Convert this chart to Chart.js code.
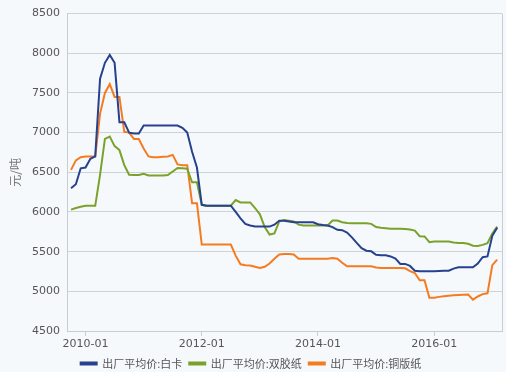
<!DOCTYPE html>
<html>
<head>
<meta charset="utf-8">
<script src="https://cdn.jsdelivr.net/npm/chart.js@4.4.0/dist/chart.umd.min.js"></script>
<style>
  html, body { margin: 0; padding: 0; background: #f6f9fc; }
  #wrap { width: 506px; height: 372px; }
</style>
</head>
<body>
<div id="wrap"><canvas id="paperChart"></canvas></div>
<script>
// monthly points, 2009-10 .. 2017-02
const startYear = 2009, startMonth = 10;
const tickLabels = ['2010-01', '2012-01', '2014-01', '2016-01'];

const baika = [6300, 6350, 6550, 6560, 6670, 6700, 7680, 7880, 7980, 7880,
  7130, 7130, 7000, 6990, 6990, 7090, 7090, 7090, 7090, 7090,
  7090, 7090, 7090, 7060, 7000, 6760, 6560, 6090, 6080, 6080,
  6080, 6080, 6080, 6080, 6000, 5920, 5850, 5830, 5816, 5816,
  5816, 5816, 5840, 5890, 5890, 5880, 5870, 5870, 5870, 5870,
  5870, 5845, 5835, 5830, 5810, 5775, 5770, 5740, 5680, 5610,
  5545, 5512, 5504, 5460, 5454, 5454, 5440, 5412, 5345, 5345,
  5320, 5260, 5252, 5252, 5252, 5252, 5255, 5258, 5260, 5286,
  5302, 5302, 5302, 5302, 5350, 5430, 5440, 5700, 5800];

const shuangjiao = [6030, 6050, 6065, 6077, 6077, 6077, 6470, 6920, 6950, 6830,
  6780, 6590, 6470, 6465, 6465, 6480, 6460, 6460, 6460, 6460,
  6465, 6510, 6555, 6550, 6545, 6375, 6375, 6090, 6080, 6080,
  6080, 6080, 6080, 6080, 6150, 6120, 6120, 6120, 6050, 5970,
  5810, 5715, 5730, 5880, 5900, 5890, 5880, 5840, 5830, 5830,
  5830, 5830, 5830, 5830, 5892, 5892, 5870, 5860, 5858, 5858,
  5858, 5858, 5850, 5810, 5800, 5795, 5790, 5790, 5788, 5785,
  5778, 5765, 5695, 5692, 5620, 5629, 5629, 5629, 5629, 5615,
  5608, 5608, 5600, 5575, 5570, 5585, 5608, 5730, 5816];

const tongban = [6530, 6650, 6690, 6700, 6700, 6700, 7240, 7500, 7610, 7450,
  7450, 7010, 7000, 6920, 6920, 6800, 6700, 6690, 6690, 6695,
  6700, 6720, 6600, 6590, 6590, 6110, 6110, 5590, 5590, 5590,
  5590, 5590, 5590, 5590, 5450, 5340, 5330, 5325, 5310, 5295,
  5310, 5350, 5410, 5465, 5470, 5470, 5465, 5412, 5412, 5412,
  5412, 5412, 5412, 5412, 5420, 5410, 5360, 5315, 5315, 5315,
  5315, 5315, 5315, 5300, 5294, 5294, 5294, 5294, 5294, 5290,
  5255, 5231, 5140, 5140, 4920, 4920, 4930, 4938, 4945, 4950,
  4955, 4958, 4960, 4895, 4935, 4965, 4975, 5330, 5400];

const months = [];
for (let i = 0; i < baika.length; i++) {
    const m = startMonth - 1 + i;
    const y = startYear + Math.floor(m / 12);
    months.push(y + '-' + String(m % 12 + 1).padStart(2, '0'));
}

const toPoints = arr => arr.map((v, i) => ({ x: i, y: v }));

// paint background and the right-hand frame line
const framePlugin = {
    id: 'frame',
    beforeDraw(chart) {
        const c = chart.ctx;
        c.save();
        c.fillStyle = '#f6f9fc';
        c.fillRect(0, 0, chart.width, chart.height);
        c.restore();
    },
    afterDatasetsDraw(chart) {
        const a = chart.chartArea, c = chart.ctx;
        c.save();
        c.strokeStyle = '#c9ccd1';
        c.lineWidth = 1;
        c.beginPath();
        c.moveTo(a.right + 0.5, a.top);
        c.lineTo(a.right + 0.5, a.bottom);
        c.stroke();
        c.restore();
    }
};

const mk = (label, data, color) => ({
    label: label,
    data: toPoints(data),
    borderColor: color,
    backgroundColor: color,
    borderWidth: 2,
    pointRadius: 0,
    tension: 0
});

new Chart(document.getElementById('paperChart'), {
    type: 'line',
    data: {
        datasets: [
            mk('出厂平均价:白卡', baika, '#27418f'),
            mk('出厂平均价:双胶纸', shuangjiao, '#7aa22a'),
            mk('出厂平均价:铜版纸', tongban, '#f47b20')
        ]
    },
    options: {
        responsive: true,
        maintainAspectRatio: false,
        animation: false,
        layout: { padding: { left: 0, right: 4, top: 11, bottom: -7 } },
        scales: {
            x: {
                type: 'linear',
                min: -0.83,
                max: 89,
                afterBuildTicks: scale => {
                    scale.ticks = tickLabels.map(t => ({ value: months.indexOf(t) }));
                },
                ticks: {
                    color: '#555',
                    font: { family: 'DejaVu Sans', size: 11 },
                    padding: 2,
                    maxRotation: 0,
                    callback: v => months[v]
                },
                grid: { drawOnChartArea: false, tickLength: 5, color: '#c9ccd1' },
                border: { color: '#c9ccd1' },
                afterFit: scale => { scale.height = 20; }
            },
            y: {
                min: 4500,
                max: 8500,
                ticks: {
                    stepSize: 500,
                    color: '#555',
                    font: { family: 'DejaVu Sans', size: 11 },
                    padding: 7,
                    callback: v => String(v)
                },
                grid: { color: '#cfd2d6', tickLength: 0 },
                border: { color: '#c9ccd1' },
                title: {
                    display: true,
                    text: '元/吨',
                    color: '#777',
                    font: { family: 'Noto Sans CJK SC', size: 12 },
                    padding: { top: 8, bottom: 0 }
                },
                afterFit: scale => { scale.width = 67; }
            }
        },
        plugins: {
            legend: {
                position: 'bottom',
                labels: {
                    color: '#555',
                    boxWidth: 16,
                    boxHeight: 2,
                    padding: 7,
                    font: { family: 'Noto Sans CJK SC', size: 11 }
                }
            },
            tooltip: { enabled: false }
        }
    },
    plugins: [framePlugin]
});
</script>
</body>
</html>
